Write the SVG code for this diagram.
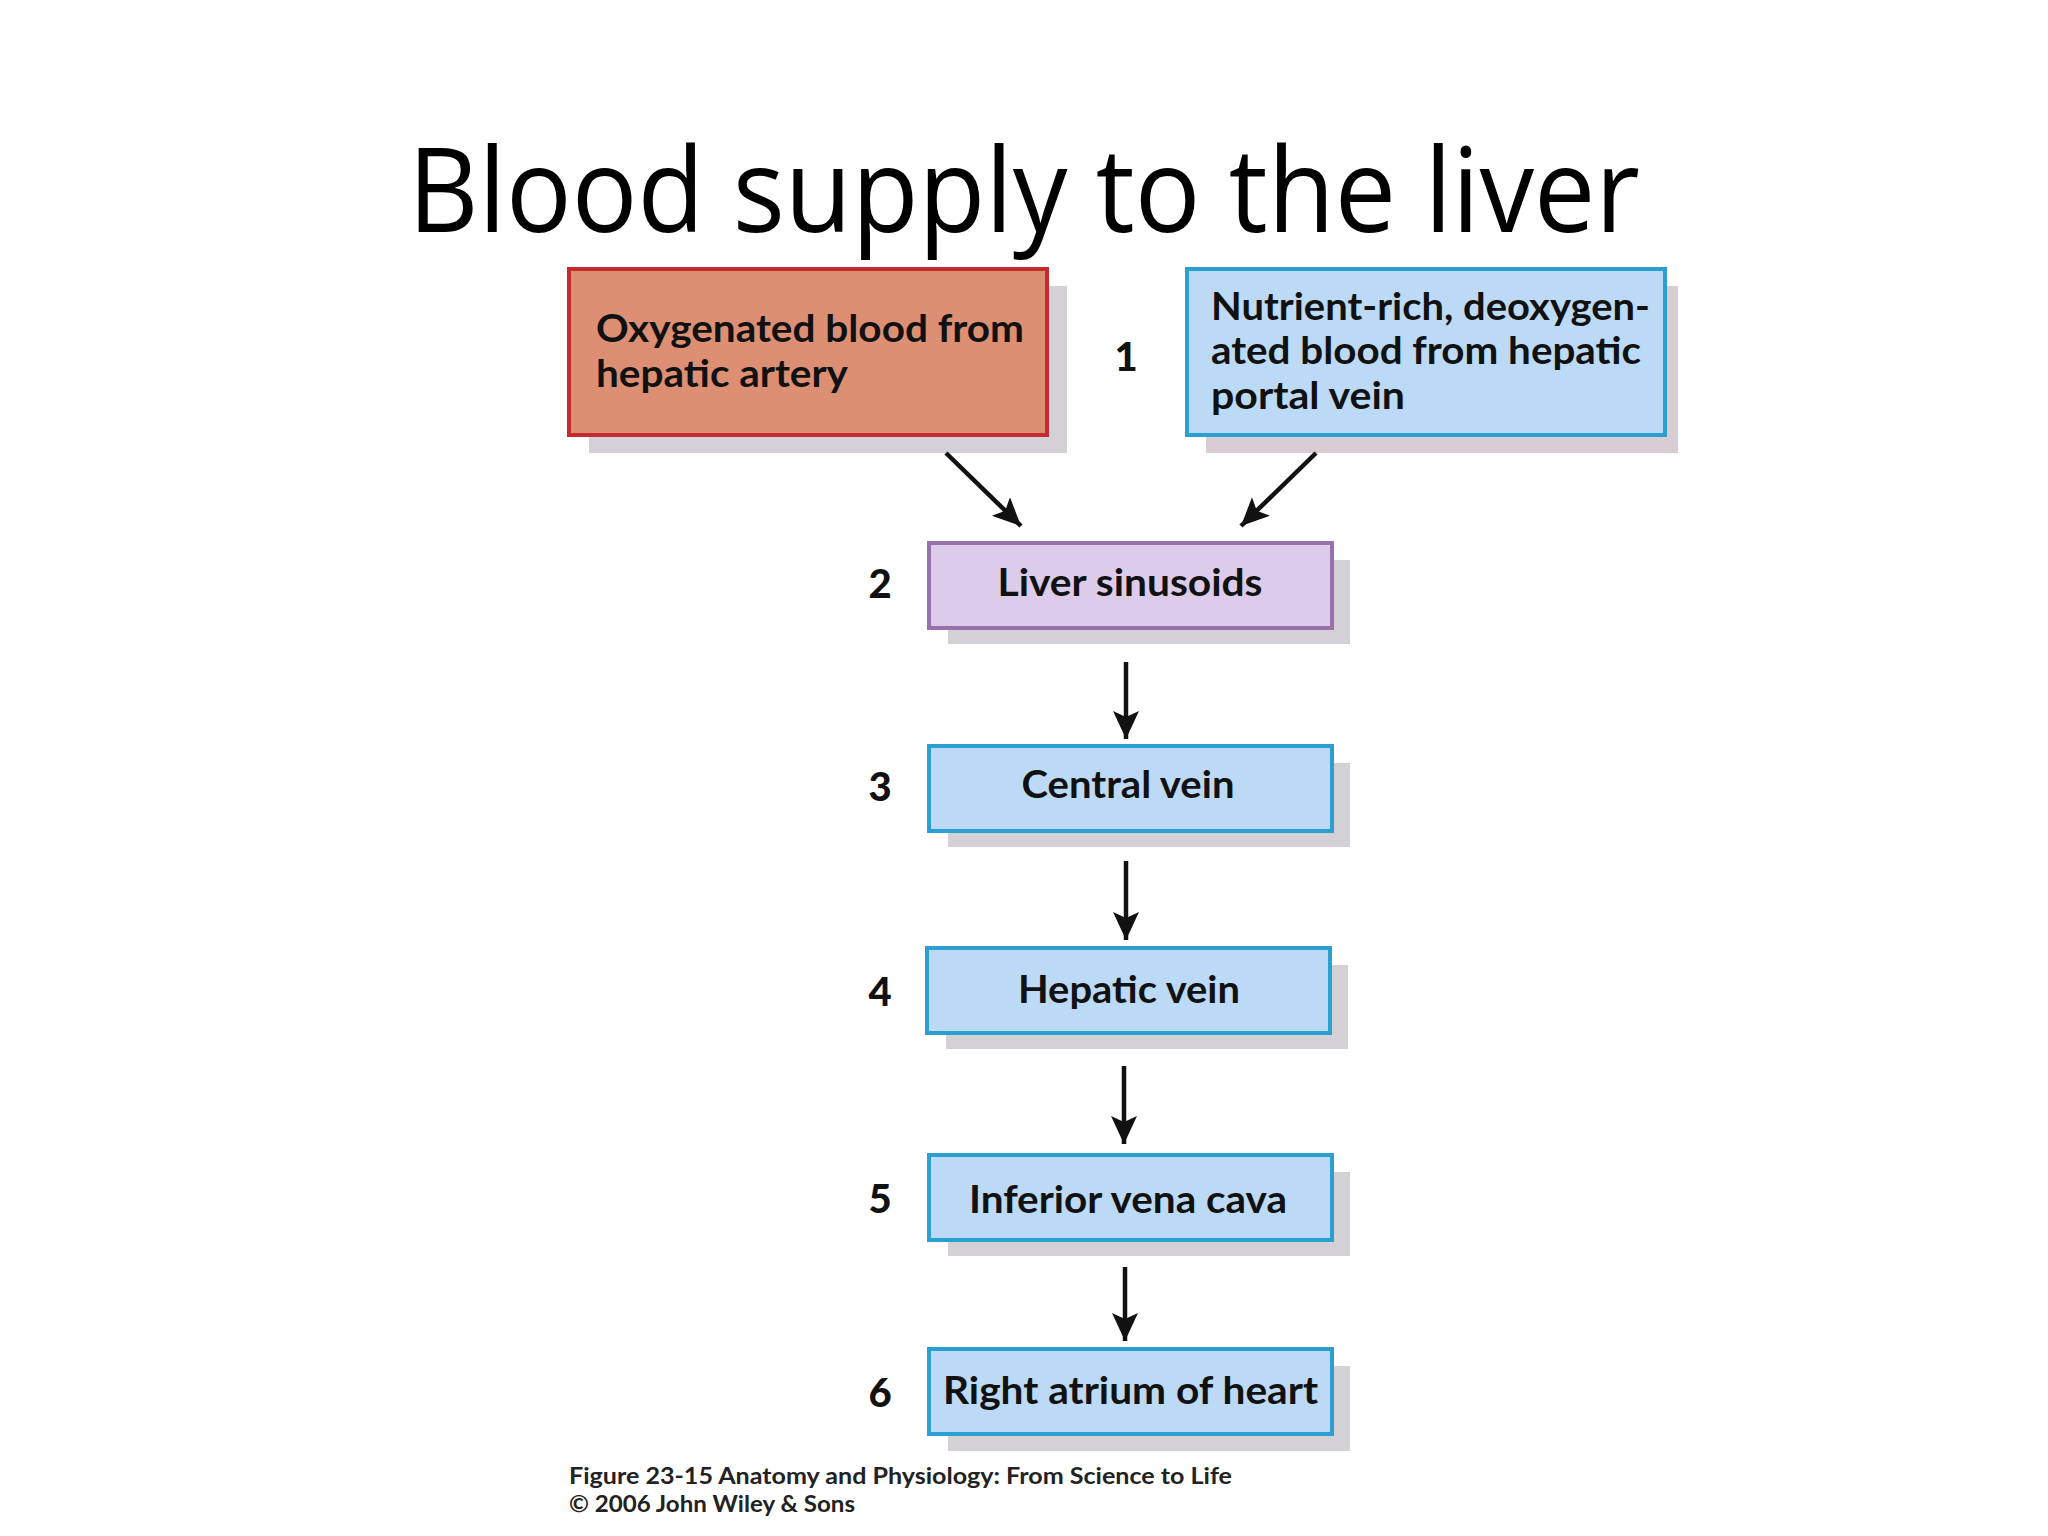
<svg xmlns="http://www.w3.org/2000/svg" width="2048" height="1536" viewBox="0 0 2048 1536">
<style>
.shadow{fill:#d3d1d6}
.box{stroke-width:4}
.red{fill:#dd8f74;stroke:#c62a30}
.blue{fill:#bcdaf5;stroke:#2b9fd0}
.purple{fill:#dccbe9;stroke:#9671ab}
.lbl{font-family:Lato,"Open Sans","Liberation Sans",sans-serif;font-weight:700;font-size:38px;fill:#111}
.num{font-family:Lato,"Liberation Sans",sans-serif;font-weight:900;font-size:40px;fill:#111;text-anchor:middle}
.cap{font-family:Lato,"Liberation Sans",sans-serif;font-weight:700;font-size:22px;fill:#222}
.title{font-family:"Open Sans","Noto Sans",sans-serif;font-size:118px;fill:#000}
.conn{stroke:#111;stroke-width:4.5;fill:none}
</style>
<defs>
<marker id="ah" markerUnits="userSpaceOnUse" markerWidth="32" markerHeight="28" refX="28" refY="13" orient="auto">
<path d="M0,0 L28,13 L0,26 L6,13 z" fill="#111"/>
</marker>
</defs>
<rect width="2048" height="1536" fill="#ffffff"/>
<text class="title" x="408" y="232" textLength="1232" lengthAdjust="spacingAndGlyphs">Blood supply to the liver</text>

<g id="node-artery">
<rect class="shadow" x="589" y="286" width="478" height="167"/>
<rect class="box red" x="569" y="269" width="478" height="166"/>
<text class="lbl" x="596" y="342" textLength="428" lengthAdjust="spacingAndGlyphs">Oxygenated blood from</text>
<text class="lbl" x="596" y="387" textLength="252" lengthAdjust="spacingAndGlyphs">hepatic artery</text>
</g>

<g id="node-portal">
<rect class="shadow" x="1206" y="286" width="472" height="167" style="fill:#d8cdd2"/>
<rect class="box blue" x="1187" y="269" width="478" height="166"/>
<text class="lbl" x="1211" y="320" textLength="439" lengthAdjust="spacingAndGlyphs">Nutrient-rich, deoxygen-</text>
<text class="lbl" x="1211" y="364" textLength="430" lengthAdjust="spacingAndGlyphs">ated blood from hepatic</text>
<text class="lbl" x="1211" y="409" textLength="194" lengthAdjust="spacingAndGlyphs">portal vein</text>
</g>
<text class="num" x="1126" y="371">1</text>

<g id="node-sinusoids">
<rect class="shadow" x="948" y="560" width="402" height="84"/>
<rect class="box purple" x="929" y="543" width="403" height="85"/>
<text class="lbl" x="1130" y="596" text-anchor="middle" textLength="265" lengthAdjust="spacingAndGlyphs">Liver sinusoids</text>
<text class="num" x="880" y="598">2</text>
</g>

<g id="node-central">
<rect class="shadow" x="948" y="763" width="402" height="84"/>
<rect class="box blue" x="929" y="746" width="403" height="85"/>
<text class="lbl" x="1128" y="798" text-anchor="middle" textLength="213" lengthAdjust="spacingAndGlyphs">Central vein</text>
<text class="num" x="880" y="801">3</text>
</g>

<g id="node-hepatic">
<rect class="shadow" x="946" y="965" width="402" height="84"/>
<rect class="box blue" x="927" y="948" width="403" height="85"/>
<text class="lbl" x="1129" y="1003" text-anchor="middle" textLength="222" lengthAdjust="spacingAndGlyphs">Hepatic vein</text>
<text class="num" x="880" y="1006">4</text>
</g>

<g id="node-ivc">
<rect class="shadow" x="948" y="1172" width="402" height="84"/>
<rect class="box blue" x="929" y="1155" width="403" height="85"/>
<text class="lbl" x="1128" y="1213" text-anchor="middle" textLength="318" lengthAdjust="spacingAndGlyphs">Inferior vena cava</text>
<text class="num" x="880" y="1213">5</text>
</g>

<g id="node-atrium">
<rect class="shadow" x="948" y="1366" width="402" height="85"/>
<rect class="box blue" x="929" y="1349" width="403" height="85"/>
<text class="lbl" x="943" y="1404" textLength="375" lengthAdjust="spacingAndGlyphs">Right atrium of heart</text>
<text class="num" x="880" y="1407">6</text>
</g>

<g id="connectors">
<line class="conn" x1="946" y1="453" x2="1021" y2="526" marker-end="url(#ah)"/>
<line class="conn" x1="1316" y1="453" x2="1241" y2="526" marker-end="url(#ah)"/>
<line class="conn" x1="1126" y1="662" x2="1126" y2="739" marker-end="url(#ah)"/>
<line class="conn" x1="1126" y1="861" x2="1126" y2="940" marker-end="url(#ah)"/>
<line class="conn" x1="1124" y1="1066" x2="1124" y2="1144" marker-end="url(#ah)"/>
<line class="conn" x1="1125" y1="1267" x2="1125" y2="1341" marker-end="url(#ah)"/>
</g>

<text class="cap" x="569" y="1484" textLength="663" lengthAdjust="spacingAndGlyphs">Figure 23-15  Anatomy and Physiology: From Science to Life</text>
<text class="cap" x="569" y="1512" textLength="286" lengthAdjust="spacingAndGlyphs">© 2006 John Wiley &amp; Sons</text>
</svg>
